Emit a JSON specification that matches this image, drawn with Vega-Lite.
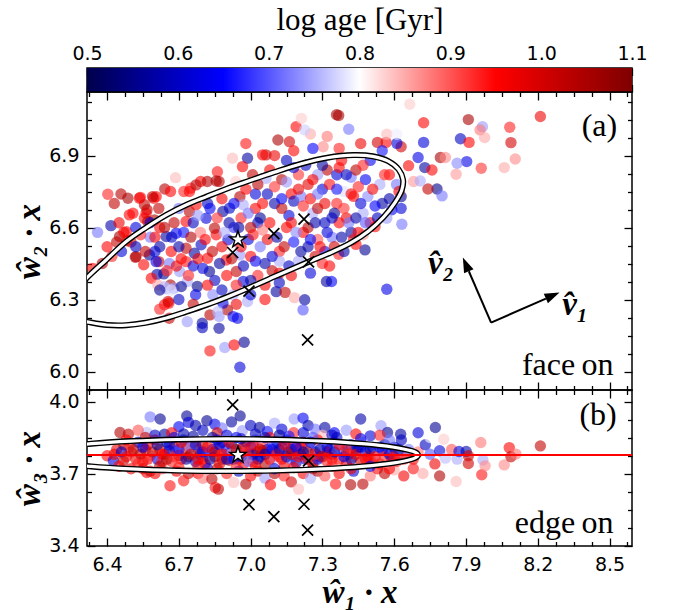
{
"$schema":"https://vega.github.io/schema/vega-lite/v6.json",
"background":"white",
"padding":{"left":13,"top":3,"right":10,"bottom":4},
"spacing":0,
"bounds":"flush",
"resolve":{"scale":{"x":"independent","y":"independent"}},
"config":{
 "view":{"stroke":"black","strokeWidth":1.5},
 "axis":{"domain":false,"grid":false,"tickColor":"black","tickWidth":1.3,"labelColor":"black","labelFont":"DejaVu Sans","labelFontSize":19,"labelFlush":false,"labelOverlap":false,"titleColor":"black","titleFont":"Liberation Serif","titleFontSize":33,"titleFontWeight":"bold","titleFontStyle":"italic","zindex":1}
},
"datasets":{
"face":[
{"x":7.665,"y":7.114,"c":0.83},{"x":7.368,"y":7.067,"c":1.05},{"x":7.723,"y":7.037,"c":0.95},{"x":7.91,"y":7.05,"c":1.05},{"x":7.969,"y":7.02,"c":0.74},{"x":7.959,"y":7.007,"c":0.88},{"x":7.978,"y":6.975,"c":0.85},{"x":8.083,"y":7.018,"c":0.93},{"x":8.088,"y":6.954,"c":1.0},{"x":8.106,"y":6.886,"c":0.87},
{"x":8.06,"y":6.85,"c":0.85},{"x":8.211,"y":7.063,"c":0.97},{"x":7.877,"y":6.97,"c":0.6},{"x":7.913,"y":6.955,"c":0.95},{"x":7.903,"y":6.875,"c":0.63},{"x":7.863,"y":6.868,"c":0.73},{"x":7.964,"y":6.847,"c":0.92},{"x":7.859,"y":6.822,"c":0.86},{"x":7.793,"y":6.892,"c":1.05},{"x":7.814,"y":6.892,"c":0.87},
{"x":7.723,"y":6.955,"c":0.62},{"x":7.70,"y":6.892,"c":0.63},{"x":7.728,"y":6.85,"c":0.57},{"x":7.758,"y":6.84,"c":0.95},{"x":7.779,"y":6.761,"c":0.55},{"x":7.80,"y":6.732,"c":0.72},{"x":7.741,"y":6.761,"c":1.02},{"x":7.681,"y":6.792,"c":0.86},{"x":7.709,"y":6.794,"c":0.75},{"x":7.629,"y":6.937,"c":1.0},
{"x":7.611,"y":6.951,"c":0.62},{"x":7.566,"y":6.955,"c":0.95},{"x":7.569,"y":6.989,"c":0.84},{"x":7.66,"y":6.858,"c":0.95},{"x":7.629,"y":6.729,"c":0.56},{"x":7.629,"y":6.68,"c":0.62},{"x":7.632,"y":6.614,"c":0.72},{"x":7.59,"y":6.674,"c":0.64},{"x":7.569,"y":6.639,"c":0.74},{"x":7.52,"y":6.604,"c":0.95},
{"x":7.478,"y":6.507,"c":0.56},{"x":7.44,"y":6.53,"c":0.95},{"x":7.471,"y":6.57,"c":0.86},{"x":7.569,"y":6.343,"c":0.63},{"x":7.368,"y":6.489,"c":0.93},{"x":7.338,"y":6.375,"c":0.65},{"x":7.611,"y":6.989,"c":0.79},{"x":7.52,"y":6.93,"c":0.8},{"x":7.46,"y":6.95,"c":0.97},{"x":7.53,"y":6.955,"c":1.0},
{"x":7.37,"y":6.93,"c":0.93},{"x":7.25,"y":6.99,"c":0.85},{"x":7.19,"y":7.02,"c":0.95},{"x":7.32,"y":6.84,"c":1.03},{"x":7.36,"y":6.82,"c":0.62},{"x":7.42,"y":6.81,"c":0.72},{"x":7.48,"y":6.80,"c":0.64},{"x":7.54,"y":6.78,"c":0.75},{"x":7.58,"y":6.82,"c":0.95},{"x":7.61,"y":6.78,"c":0.72},
{"x":7.62,"y":6.75,"c":0.97},{"x":7.55,"y":6.70,"c":0.57},{"x":7.52,"y":6.69,"c":0.65},{"x":7.47,"y":6.66,"c":0.75},{"x":7.43,"y":6.73,"c":0.95},{"x":7.36,"y":6.70,"c":0.93},{"x":7.30,"y":6.76,"c":0.62},{"x":7.24,"y":6.78,"c":0.98},{"x":7.17,"y":6.74,"c":0.95},{"x":7.13,"y":6.80,"c":1.03},
{"x":7.08,"y":6.84,"c":0.96},{"x":7.10,"y":6.70,"c":0.58},{"x":7.16,"y":6.65,"c":0.62},{"x":7.26,"y":6.66,"c":0.75},{"x":7.31,"y":6.62,"c":0.6},{"x":7.37,"y":6.62,"c":0.95},{"x":7.42,"y":6.58,"c":0.57},{"x":7.40,"y":6.64,"c":0.97},{"x":7.34,"y":6.56,"c":0.72},{"x":7.22,"y":6.58,"c":0.95},
{"x":7.18,"y":6.54,"c":0.66},{"x":7.12,"y":6.50,"c":0.93},{"x":7.07,"y":6.55,"c":0.97},{"x":7.03,"y":6.62,"c":0.6},{"x":7.02,"y":6.68,"c":0.95},{"x":7.20,"y":6.46,"c":0.75},{"x":7.30,"y":6.45,"c":0.93},{"x":7.43,"y":6.55,"c":0.94},{"x":6.403,"y":6.739,"c":0.93},{"x":6.458,"y":6.74,"c":1.03},
{"x":6.487,"y":6.722,"c":1.05},{"x":6.416,"y":6.608,"c":0.58},{"x":6.452,"y":6.563,"c":1.05},{"x":6.483,"y":6.545,"c":0.97},{"x":6.518,"y":6.476,"c":1.04},{"x":6.539,"y":6.726,"c":0.95},{"x":6.556,"y":6.639,"c":0.95},{"x":6.567,"y":6.674,"c":1.03},{"x":6.595,"y":6.722,"c":0.95},{"x":6.616,"y":6.68,"c":1.02},
{"x":6.641,"y":6.761,"c":1.03},{"x":6.609,"y":6.405,"c":0.58},{"x":6.553,"y":6.445,"c":0.95},{"x":6.616,"y":6.458,"c":1.02},{"x":6.637,"y":6.407,"c":0.56},{"x":6.665,"y":6.361,"c":1.05},{"x":6.648,"y":6.345,"c":0.75},{"x":6.679,"y":6.347,"c":0.74},{"x":6.658,"y":6.285,"c":0.95},{"x":6.735,"y":6.375,"c":0.75},
{"x":6.777,"y":6.355,"c":0.55},{"x":6.77,"y":6.32,"c":0.63},{"x":6.735,"y":6.208,"c":0.74},{"x":6.798,"y":6.201,"c":0.57},{"x":6.798,"y":6.183,"c":0.6},{"x":6.83,"y":6.236,"c":1.03},{"x":6.83,"y":6.086,"c":0.94},{"x":6.868,"y":6.18,"c":0.57},{"x":6.892,"y":6.10,"c":0.74},{"x":6.931,"y":6.111,"c":0.95},
{"x":6.973,"y":6.122,"c":0.56},{"x":6.955,"y":6.018,"c":0.62},{"x":6.868,"y":6.229,"c":0.74},{"x":6.903,"y":6.257,"c":1.04},{"x":6.945,"y":6.222,"c":0.63},{"x":6.987,"y":6.292,"c":0.75},{"x":7.107,"y":6.333,"c":0.57},{"x":7.144,"y":6.33,"c":1.02},{"x":7.183,"y":6.308,"c":0.85},{"x":7.226,"y":6.299,"c":0.57},
{"x":7.219,"y":6.257,"c":0.7},{"x":7.317,"y":6.375,"c":0.57},{"x":6.924,"y":6.889,"c":0.84},{"x":6.987,"y":6.889,"c":0.57},{"x":7.064,"y":6.903,"c":1.02},{"x":7.114,"y":6.965,"c":1.05},{"x":7.162,"y":6.958,"c":1.0},{"x":7.212,"y":7.055,"c":0.83},{"x":7.226,"y":7.007,"c":0.77},{"x":7.359,"y":7.07,"c":1.05},
{"x":7.303,"y":6.937,"c":0.87},{"x":6.686,"y":6.808,"c":0.84},{"x":6.665,"y":6.75,"c":0.95},{"x":6.721,"y":6.75,"c":0.93},{"x":6.749,"y":6.764,"c":0.93},{"x":6.791,"y":6.792,"c":0.95},{"x":6.819,"y":6.792,"c":1.04},{"x":6.861,"y":6.833,"c":0.94},{"x":6.868,"y":6.792,"c":1.03},{"x":6.938,"y":6.792,"c":0.83},
{"x":6.966,"y":6.854,"c":0.95},{"x":7.008,"y":6.82,"c":1.02},{"x":7.064,"y":6.805,"c":0.75},{"x":6.48,"y":6.583,"c":0.95},{"x":6.50,"y":6.54,"c":1.02},{"x":6.493,"y":6.653,"c":0.95},{"x":6.563,"y":6.66,"c":0.96},{"x":6.57,"y":6.625,"c":1.03},{"x":6.556,"y":6.695,"c":1.02},{"x":6.605,"y":6.729,"c":0.95},
{"x":6.521,"y":6.479,"c":1.03},{"x":6.577,"y":6.486,"c":0.56},{"x":6.605,"y":6.458,"c":0.63},{"x":6.647,"y":6.563,"c":0.57},{"x":6.668,"y":6.50,"c":0.95},{"x":6.689,"y":6.576,"c":0.64},{"x":6.585,"y":6.389,"c":0.95},{"x":6.612,"y":6.361,"c":0.85},{"x":6.64,"y":6.354,"c":0.76},{"x":6.64,"y":6.278,"c":0.95},
{"x":6.73,"y":6.625,"c":0.95},{"x":6.744,"y":6.667,"c":1.03},{"x":6.772,"y":6.695,"c":0.95},{"x":6.814,"y":6.639,"c":0.62},{"x":6.793,"y":6.528,"c":0.6},{"x":6.765,"y":6.493,"c":0.57},{"x":6.73,"y":6.514,"c":1.02},{"x":6.73,"y":6.458,"c":0.94},{"x":6.703,"y":6.417,"c":0.74},{"x":6.828,"y":6.417,"c":0.56},
{"x":6.82,"y":6.472,"c":0.95},{"x":6.856,"y":6.57,"c":0.95},{"x":6.849,"y":6.597,"c":1.03},{"x":6.884,"y":6.667,"c":0.57},{"x":6.905,"y":6.549,"c":0.62},{"x":6.912,"y":6.681,"c":0.6},{"x":6.898,"y":6.465,"c":0.95},{"x":6.94,"y":6.417,"c":1.02},{"x":6.955,"y":6.486,"c":0.74},{"x":6.969,"y":6.375,"c":0.62},
{"x":6.927,"y":6.32,"c":0.75},{"x":6.884,"y":6.285,"c":0.63},{"x":6.842,"y":6.32,"c":0.73},{"x":6.863,"y":6.25,"c":0.76},{"x":6.927,"y":6.229,"c":0.64},{"x":6.955,"y":6.729,"c":1.03},{"x":6.969,"y":6.695,"c":0.75},{"x":6.71,"y":6.354,"c":0.56},{"x":6.668,"y":6.34,"c":0.78},{"x":6.66,"y":6.222,"c":1.02},
{"x":6.655,"y":6.292,"c":1.0},{"x":6.62,"y":6.34,"c":0.56},{"x":7.02,"y":6.74,"c":0.62},{"x":7.05,"y":6.70,"c":0.95},{"x":7.00,"y":6.60,"c":1.03},{"x":7.04,"y":6.52,"c":0.72},{"x":7.00,"y":6.48,"c":0.95},{"x":7.06,"y":6.45,"c":0.58},{"x":7.03,"y":6.40,"c":0.93},{"x":7.09,"y":6.42,"c":1.02},
{"x":7.12,"y":6.46,"c":0.75},{"x":7.15,"y":6.60,"c":0.95},{"x":7.13,"y":6.68,"c":1.02},{"x":7.18,"y":6.71,"c":0.6},{"x":7.21,"y":6.73,"c":0.72},{"x":7.25,"y":6.72,"c":0.95},{"x":7.28,"y":6.68,"c":1.03},{"x":7.24,"y":6.52,"c":0.58},{"x":7.28,"y":6.55,"c":0.9},{"x":7.31,"y":6.50,"c":0.63},
{"x":7.27,"y":6.48,"c":1.0},{"x":7.35,"y":6.66,"c":0.56},{"x":7.39,"y":6.75,"c":0.78},{"x":7.45,"y":6.77,"c":0.93},{"x":7.44,"y":6.84,"c":1.03},{"x":7.50,"y":6.88,"c":0.64},{"x":7.38,"y":6.88,"c":0.95},{"x":7.28,"y":6.82,"c":0.74},{"x":7.20,"y":6.82,"c":0.92},{"x":7.15,"y":6.88,"c":0.6},
{"x":7.10,"y":6.90,"c":0.97},{"x":7.02,"y":6.93,"c":0.8},{"x":6.98,"y":6.95,"c":0.94},{"x":7.18,"y":6.92,"c":0.95},{"x":7.26,"y":6.93,"c":0.65},{"x":7.32,"y":6.98,"c":0.88},{"x":7.41,"y":7.01,"c":0.72},{"x":7.55,"y":6.92,"c":0.66},{"x":7.49,"y":6.73,"c":0.73},{"x":7.50,"y":6.62,"c":0.96},
{"x":6.535,"y":6.722,"c":0.96},{"x":6.59,"y":6.729,"c":1.03},{"x":6.508,"y":6.66,"c":0.95},{"x":6.598,"y":6.632,"c":1.04},{"x":6.744,"y":6.75,"c":0.95},{"x":6.772,"y":6.778,"c":1.03},{"x":6.856,"y":6.794,"c":1.04},{"x":7.05,"y":6.903,"c":0.95},{"x":6.93,"y":6.60,"c":0.68},{"x":6.88,"y":6.52,"c":0.97},
{"x":6.79,"y":6.58,"c":0.88},{"x":6.76,"y":6.44,"c":0.62},{"x":6.58,"y":6.56,"c":0.72},{"x":6.52,"y":6.60,"c":0.62},{"x":6.45,"y":6.62,"c":0.97},{"x":6.43,"y":6.70,"c":1.02},{"x":6.99,"y":6.55,"c":0.62},{"x":6.96,"y":6.64,"c":0.93},{"x":6.82,"y":6.70,"c":0.6},{"x":6.70,"y":6.68,"c":0.72},
{"x":6.60,"y":6.50,"c":0.62},{"x":6.62,"y":6.60,"c":0.97},{"x":6.66,"y":6.45,"c":0.72},{"x":6.68,"y":6.62,"c":1.02},{"x":6.70,"y":6.52,"c":0.58},{"x":6.71,"y":6.47,"c":0.95},{"x":6.72,"y":6.58,"c":0.66},{"x":6.74,"y":6.40,"c":0.93},{"x":6.75,"y":6.56,"c":1.04},{"x":6.76,"y":6.62,"c":0.6},
{"x":6.78,"y":6.47,"c":0.97},{"x":6.78,"y":6.65,"c":0.74},{"x":6.80,"y":6.43,"c":0.62},{"x":6.81,"y":6.55,"c":0.95},{"x":6.83,"y":6.68,"c":0.64},{"x":6.84,"y":6.50,"c":1.02},{"x":6.85,"y":6.38,"c":0.6},{"x":6.86,"y":6.64,"c":0.92},{"x":6.87,"y":6.45,"c":0.57},{"x":6.88,"y":6.72,"c":0.96},
{"x":6.89,"y":6.58,"c":0.75},{"x":6.90,"y":6.40,"c":0.95},{"x":6.91,"y":6.62,"c":0.58},{"x":6.92,"y":6.47,"c":1.03},{"x":6.93,"y":6.70,"c":0.64},{"x":6.94,"y":6.36,"c":0.93},{"x":6.95,"y":6.60,"c":0.57},{"x":6.96,"y":6.52,"c":0.96},{"x":6.97,"y":6.44,"c":0.6},{"x":6.98,"y":6.76,"c":0.95},
{"x":6.99,"y":6.66,"c":0.72},{"x":7.00,"y":6.38,"c":0.58},{"x":7.01,"y":6.57,"c":0.94},{"x":7.02,"y":6.46,"c":0.64},{"x":7.03,"y":6.78,"c":1.03},{"x":7.04,"y":6.64,"c":0.56},{"x":7.05,"y":6.59,"c":0.88},{"x":7.06,"y":6.36,"c":0.96},{"x":7.07,"y":6.74,"c":0.6},{"x":7.08,"y":6.62,"c":0.95},
{"x":7.09,"y":6.48,"c":0.62},{"x":7.10,"y":6.77,"c":0.92},{"x":7.11,"y":6.56,"c":0.58},{"x":7.12,"y":6.41,"c":0.97},{"x":7.13,"y":6.72,"c":0.64},{"x":7.14,"y":6.52,"c":1.02},{"x":7.15,"y":6.79,"c":0.74},{"x":7.16,"y":6.44,"c":0.6},{"x":7.17,"y":6.62,"c":0.96},{"x":7.18,"y":6.85,"c":0.62},
{"x":7.19,"y":6.58,"c":0.73},{"x":7.20,"y":6.76,"c":0.97},{"x":7.21,"y":6.50,"c":0.57},{"x":7.22,"y":6.69,"c":0.93},{"x":7.23,"y":6.86,"c":0.6},{"x":7.24,"y":6.60,"c":1.03},{"x":7.25,"y":6.55,"c":0.64},{"x":7.26,"y":6.80,"c":0.96},{"x":7.27,"y":6.62,"c":0.58},{"x":7.28,"y":6.74,"c":0.72},
{"x":7.29,"y":6.52,"c":0.95},{"x":7.30,"y":6.86,"c":0.57},{"x":7.31,"y":6.70,"c":0.97},{"x":7.32,"y":6.58,"c":0.62},{"x":7.33,"y":6.78,"c":0.94},{"x":7.34,"y":6.64,"c":0.6},{"x":7.35,"y":6.52,"c":1.0},{"x":7.36,"y":6.76,"c":0.66},{"x":7.37,"y":6.85,"c":0.95},{"x":7.38,"y":6.56,"c":0.58},
{"x":7.39,"y":6.68,"c":0.92},{"x":7.40,"y":6.82,"c":0.6},{"x":7.41,"y":6.62,"c":0.72},{"x":7.42,"y":6.74,"c":0.96},{"x":7.44,"y":6.64,"c":0.58},{"x":7.45,"y":6.58,"c":0.95},{"x":7.46,"y":6.70,"c":0.62},{"x":7.47,"y":6.86,"c":0.93},{"x":7.48,"y":6.62,"c":0.7},{"x":7.51,"y":6.76,"c":0.96},
{"x":7.53,"y":6.64,"c":0.6},{"x":7.56,"y":6.82,"c":0.93},{"x":7.58,"y":6.72,"c":0.58},{"x":6.52,"y":6.52,"c":0.6},{"x":6.54,"y":6.57,"c":0.93},{"x":6.56,"y":6.50,"c":1.02},{"x":6.58,"y":6.62,"c":0.62},{"x":6.60,"y":6.56,"c":0.96},{"x":6.62,"y":6.52,"c":0.58},{"x":6.64,"y":6.60,"c":1.03},
{"x":6.65,"y":6.42,"c":0.93},{"x":6.67,"y":6.56,"c":0.6},{"x":6.69,"y":6.44,"c":0.97},{"x":6.46,"y":6.50,"c":0.62},{"x":6.47,"y":6.58,"c":0.96},{"x":6.44,"y":6.54,"c":1.02},{"x":6.42,"y":6.48,"c":0.93},{"x":6.38,"y":6.45,"c":1.03},{"x":6.40,"y":6.52,"c":0.95},{"x":6.36,"y":6.58,"c":0.72},
{"x":6.34,"y":6.43,"c":0.95},{"x":6.62,"y":6.26,"c":0.93},{"x":6.70,"y":6.30,"c":0.6},{"x":6.76,"y":6.28,"c":1.02},{"x":6.82,"y":6.36,"c":0.95},{"x":6.88,"y":6.34,"c":0.6},{"x":6.94,"y":6.28,"c":0.97},{"x":7.00,"y":6.32,"c":0.62},{"x":7.06,"y":6.30,"c":0.95},{"x":7.12,"y":6.37,"c":0.6},
{"x":7.17,"y":6.40,"c":0.96},{"x":7.25,"y":6.41,"c":0.62},{"x":7.33,"y":6.44,"c":0.95},{"x":7.39,"y":6.50,"c":0.58}
],
"edge":[
{"x":6.58,"z":3.936,"c":0.72},{"x":6.622,"z":3.927,"c":0.56},{"x":6.733,"z":3.94,"c":0.56},{"x":6.74,"z":3.913,"c":0.62},{"x":6.817,"z":3.92,"c":0.56},{"x":6.80,"z":3.88,"c":0.6},{"x":6.64,"z":3.864,"c":0.57},{"x":6.566,"z":3.871,"c":0.76},{"x":6.70,"z":3.895,"c":0.64},{"x":6.77,"z":3.90,"c":0.58},
{"x":6.85,"z":3.905,"c":0.63},{"x":6.88,"z":3.89,"c":0.72},{"x":6.92,"z":3.915,"c":0.57},{"x":6.956,"z":3.94,"c":0.56},{"x":6.965,"z":3.878,"c":0.74},{"x":7.00,"z":3.90,"c":0.6},{"x":7.037,"z":3.892,"c":0.57},{"x":7.07,"z":3.875,"c":0.66},{"x":7.10,"z":3.91,"c":0.75},{"x":7.13,"z":3.885,"c":0.62},
{"x":7.182,"z":3.927,"c":0.74},{"x":7.219,"z":3.931,"c":0.64},{"x":7.24,"z":3.90,"c":0.58},{"x":7.27,"z":3.885,"c":0.72},{"x":7.31,"z":3.892,"c":0.57},{"x":7.35,"z":3.87,"c":0.65},{"x":7.40,"z":3.88,"c":0.74},{"x":7.46,"z":3.927,"c":0.58},{"x":7.50,"z":3.857,"c":0.62},{"x":7.545,"z":3.899,"c":0.74},
{"x":7.572,"z":3.871,"c":0.56},{"x":7.627,"z":3.864,"c":0.57},{"x":7.772,"z":3.892,"c":0.56},{"x":6.454,"z":3.871,"c":1.04},{"x":6.489,"z":3.864,"c":1.02},{"x":6.53,"z":3.88,"c":0.9},{"x":6.67,"z":3.87,"c":0.95},{"x":6.86,"z":3.87,"c":1.0},{"x":7.18,"z":3.87,"c":0.93},{"x":7.30,"z":3.86,"c":0.84},
{"x":7.44,"z":3.865,"c":0.95},{"x":6.40,"z":3.774,"c":0.95},{"x":6.426,"z":3.753,"c":0.62},{"x":6.44,"z":3.80,"c":0.97},{"x":6.468,"z":3.753,"c":1.02},{"x":6.47,"z":3.82,"c":1.04},{"x":6.50,"z":3.79,"c":0.93},{"x":6.52,"z":3.76,"c":0.97},{"x":6.53,"z":3.83,"c":0.6},{"x":6.55,"z":3.75,"c":0.95},
{"x":6.56,"z":3.80,"c":1.03},{"x":6.58,"z":3.775,"c":0.88},{"x":6.60,"z":3.84,"c":0.95},{"x":6.61,"z":3.76,"c":0.64},{"x":6.62,"z":3.80,"c":1.02},{"x":6.64,"z":3.78,"c":0.96},{"x":6.65,"z":3.83,"c":0.58},{"x":6.67,"z":3.75,"c":0.93},{"x":6.68,"z":3.81,"c":1.04},{"x":6.69,"z":3.79,"c":0.73},
{"x":6.71,"z":3.76,"c":0.95},{"x":6.72,"z":3.84,"c":0.62},{"x":6.73,"z":3.80,"c":0.98},{"x":6.74,"z":3.77,"c":1.05},{"x":6.76,"z":3.83,"c":0.96},{"x":6.77,"z":3.75,"c":0.6},{"x":6.78,"z":3.80,"c":0.92},{"x":6.79,"z":3.78,"c":0.55},{"x":6.80,"z":3.82,"c":1.0},{"x":6.81,"z":3.74,"c":0.95},
{"x":6.82,"z":3.72,"c":0.62},{"x":6.83,"z":3.79,"c":0.74},{"x":6.84,"z":3.85,"c":0.57},{"x":6.85,"z":3.77,"c":1.03},{"x":6.86,"z":3.81,"c":0.9},{"x":6.87,"z":3.74,"c":0.97},{"x":6.88,"z":3.83,"c":0.6},{"x":6.89,"z":3.78,"c":0.95},{"x":6.90,"z":3.80,"c":0.66},{"x":6.91,"z":3.755,"c":1.02},
{"x":6.92,"z":3.82,"c":0.58},{"x":6.93,"z":3.79,"c":0.93},{"x":6.94,"z":3.85,"c":0.63},{"x":6.95,"z":3.76,"c":0.97},{"x":6.96,"z":3.80,"c":0.72},{"x":6.97,"z":3.74,"c":0.95},{"x":6.98,"z":3.83,"c":0.56},{"x":6.99,"z":3.78,"c":1.03},{"x":7.00,"z":3.81,"c":0.64},{"x":7.01,"z":3.75,"c":0.96},
{"x":7.02,"z":3.84,"c":0.7},{"x":7.03,"z":3.79,"c":0.95},{"x":7.04,"z":3.77,"c":0.6},{"x":7.05,"z":3.82,"c":0.92},{"x":7.06,"z":3.74,"c":1.04},{"x":7.07,"z":3.80,"c":0.62},{"x":7.08,"z":3.85,"c":0.95},{"x":7.09,"z":3.76,"c":0.75},{"x":7.10,"z":3.79,"c":1.0},{"x":7.11,"z":3.83,"c":0.57},
{"x":7.12,"z":3.77,"c":0.94},{"x":7.13,"z":3.81,"c":0.66},{"x":7.14,"z":3.73,"c":0.96},{"x":7.15,"z":3.84,"c":0.62},{"x":7.16,"z":3.79,"c":1.02},{"x":7.17,"z":3.76,"c":0.72},{"x":7.18,"z":3.82,"c":0.95},{"x":7.19,"z":3.745,"c":0.6},{"x":7.20,"z":3.80,"c":0.88},{"x":7.21,"z":3.78,"c":0.56},
{"x":7.22,"z":3.83,"c":0.97},{"x":7.23,"z":3.76,"c":0.63},{"x":7.25,"z":3.81,"c":0.74},{"x":7.26,"z":3.74,"c":1.0},{"x":7.27,"z":3.79,"c":0.6},{"x":7.28,"z":3.84,"c":0.95},{"x":7.29,"z":3.77,"c":0.64},{"x":7.30,"z":3.82,"c":0.76},{"x":7.32,"z":3.75,"c":0.93},{"x":7.33,"z":3.80,"c":0.58},
{"x":7.34,"z":3.78,"c":1.02},{"x":7.35,"z":3.83,"c":0.62},{"x":7.37,"z":3.76,"c":0.95},{"x":7.38,"z":3.81,"c":0.7},{"x":7.39,"z":3.79,"c":0.57},{"x":7.40,"z":3.74,"c":0.96},{"x":7.42,"z":3.82,"c":0.63},{"x":7.43,"z":3.77,"c":0.88},{"x":7.44,"z":3.80,"c":0.6},{"x":7.46,"z":3.75,"c":1.0},
{"x":7.47,"z":3.83,"c":0.74},{"x":7.48,"z":3.79,"c":0.62},{"x":7.50,"z":3.76,"c":0.95},{"x":7.51,"z":3.81,"c":0.66},{"x":7.53,"z":3.78,"c":0.78},{"x":7.54,"z":3.74,"c":0.93},{"x":7.56,"z":3.82,"c":0.58},{"x":7.57,"z":3.79,"c":0.72},{"x":7.59,"z":3.76,"c":0.96},{"x":7.60,"z":3.81,"c":0.62},
{"x":7.62,"z":3.78,"c":0.75},{"x":7.63,"z":3.84,"c":0.6},{"x":7.65,"z":3.77,"c":0.9},{"x":7.66,"z":3.80,"c":0.72},{"x":7.68,"z":3.76,"c":0.96},{"x":7.70,"z":3.79,"c":0.88},{"x":6.566,"z":3.704,"c":0.95},{"x":6.58,"z":3.71,"c":1.04},{"x":6.60,"z":3.70,"c":0.96},{"x":6.63,"z":3.72,"c":0.9},
{"x":6.663,"z":3.649,"c":0.94},{"x":6.69,"z":3.71,"c":0.97},{"x":6.74,"z":3.70,"c":1.02},{"x":6.78,"z":3.70,"c":0.95},{"x":6.80,"z":3.68,"c":0.88},{"x":6.838,"z":3.677,"c":1.03},{"x":6.852,"z":3.642,"c":0.94},{"x":6.865,"z":3.635,"c":1.02},{"x":6.90,"z":3.70,"c":0.93},{"x":6.929,"z":3.663,"c":0.84},
{"x":6.95,"z":3.71,"c":0.6},{"x":6.98,"z":3.656,"c":1.04},{"x":7.00,"z":3.69,"c":0.95},{"x":7.03,"z":3.71,"c":1.02},{"x":7.06,"z":3.68,"c":0.74},{"x":7.083,"z":3.653,"c":0.95},{"x":7.10,"z":3.70,"c":1.03},{"x":7.14,"z":3.69,"c":0.93},{"x":7.17,"z":3.665,"c":1.0},{"x":7.20,"z":3.635,"c":0.84},
{"x":7.22,"z":3.70,"c":0.95},{"x":7.25,"z":3.68,"c":0.75},{"x":7.28,"z":3.71,"c":1.04},{"x":7.31,"z":3.69,"c":0.9},{"x":7.355,"z":3.656,"c":0.94},{"x":7.37,"z":3.70,"c":0.96},{"x":7.418,"z":3.653,"c":1.04},{"x":7.43,"z":3.71,"c":0.62},{"x":7.469,"z":3.656,"c":1.03},{"x":7.50,"z":3.69,"c":0.88},
{"x":7.53,"z":3.72,"c":0.95},{"x":7.56,"z":3.70,"c":1.02},{"x":7.60,"z":3.715,"c":0.85},{"x":7.64,"z":3.69,"c":0.96},{"x":7.68,"z":3.72,"c":0.94},{"x":6.72,"z":3.67,"c":0.94},{"x":6.50,"z":3.72,"c":0.97},{"x":6.45,"z":3.73,"c":0.95},{"x":7.73,"z":3.82,"c":0.6},{"x":7.75,"z":3.78,"c":0.7},
{"x":7.77,"z":3.74,"c":0.97},{"x":7.79,"z":3.795,"c":0.62},{"x":7.79,"z":3.69,"c":1.04},{"x":7.807,"z":3.843,"c":0.83},{"x":7.814,"z":3.764,"c":0.76},{"x":7.84,"z":3.80,"c":0.9},{"x":7.859,"z":3.667,"c":0.84},{"x":7.863,"z":3.76,"c":0.75},{"x":7.871,"z":3.792,"c":0.62},{"x":7.901,"z":3.792,"c":0.58},
{"x":7.91,"z":3.774,"c":1.02},{"x":7.91,"z":3.742,"c":1.0},{"x":7.962,"z":3.829,"c":0.88},{"x":7.966,"z":3.695,"c":0.94},{"x":7.971,"z":3.756,"c":0.75},{"x":7.98,"z":3.732,"c":0.87},{"x":8.06,"z":3.736,"c":0.87},{"x":8.081,"z":3.808,"c":0.95},{"x":8.088,"z":3.77,"c":1.02},{"x":8.109,"z":3.781,"c":0.88},
{"x":8.211,"z":3.815,"c":1.02},{"x":7.72,"z":3.70,"c":0.85},{"x":7.75,"z":3.85,"c":0.8},{"x":7.70,"z":3.87,"c":0.62},{"x":6.43,"z":3.78,"c":0.97},{"x":6.49,"z":3.81,"c":0.92},{"x":6.54,"z":3.78,"c":1.02},{"x":6.57,"z":3.82,"c":0.95},{"x":6.63,"z":3.75,"c":0.93},{"x":6.66,"z":3.795,"c":0.6},
{"x":6.70,"z":3.775,"c":1.0},{"x":6.75,"z":3.81,"c":0.72},{"x":6.80,"z":3.76,"c":0.95},{"x":6.84,"z":3.80,"c":0.62},{"x":6.88,"z":3.76,"c":1.02},{"x":6.92,"z":3.78,"c":0.75},{"x":6.97,"z":3.81,"c":0.96},{"x":7.01,"z":3.78,"c":0.57},{"x":7.05,"z":3.795,"c":1.0},{"x":7.09,"z":3.815,"c":0.68},
{"x":7.13,"z":3.76,"c":0.95},{"x":7.17,"z":3.80,"c":0.58},{"x":7.21,"z":3.815,"c":0.95},{"x":7.24,"z":3.79,"c":1.03},{"x":7.28,"z":3.76,"c":0.62},{"x":7.32,"z":3.79,"c":0.96},{"x":7.36,"z":3.80,"c":0.76},{"x":7.41,"z":3.78,"c":0.95},{"x":7.45,"z":3.81,"c":0.57},{"x":7.49,"z":3.77,"c":0.94},
{"x":7.55,"z":3.80,"c":0.64},{"x":7.58,"z":3.84,"c":0.72},{"x":7.61,"z":3.75,"c":0.93},{"x":6.96,"z":3.845,"c":0.6},{"x":7.06,"z":3.85,"c":0.58},{"x":7.16,"z":3.855,"c":0.66},{"x":7.26,"z":3.85,"c":0.7},{"x":6.76,"z":3.855,"c":0.57},{"x":6.68,"z":3.85,"c":0.63},{"x":6.86,"z":3.84,"c":0.6},
{"x":7.36,"z":3.85,"c":0.6},{"x":7.46,"z":3.845,"c":0.63},
{"x":6.46,"z":3.79,"c":0.6},{"x":6.48,"z":3.77,"c":0.97},{"x":6.51,"z":3.80,"c":1.03},{"x":6.53,"z":3.74,"c":0.93},{"x":6.55,"z":3.81,"c":0.62},{"x":6.57,"z":3.76,"c":0.96},{"x":6.59,"z":3.79,"c":1.02},{"x":6.61,"z":3.82,"c":0.57},{"x":6.63,"z":3.78,"c":0.95},{"x":6.65,"z":3.76,"c":1.04},
{"x":6.66,"z":3.82,"c":0.62},{"x":6.68,"z":3.77,"c":0.93},{"x":6.70,"z":3.80,"c":0.66},{"x":6.71,"z":3.83,"c":0.97},{"x":6.73,"z":3.76,"c":0.58},{"x":6.75,"z":3.78,"c":1.02},{"x":6.77,"z":3.82,"c":0.6},{"x":6.78,"z":3.76,"c":0.96},{"x":6.80,"z":3.79,"c":0.64},{"x":6.82,"z":3.81,"c":0.95},
{"x":6.83,"z":3.76,"c":0.57},{"x":6.85,"z":3.79,"c":1.02},{"x":6.87,"z":3.82,"c":0.62},{"x":6.88,"z":3.78,"c":0.94},{"x":6.90,"z":3.76,"c":0.6},{"x":6.91,"z":3.83,"c":0.97},{"x":6.93,"z":3.76,"c":0.64},{"x":6.94,"z":3.80,"c":1.03},{"x":6.96,"z":3.77,"c":0.58},{"x":6.98,"z":3.79,"c":0.93},
{"x":6.99,"z":3.75,"c":0.72},{"x":7.01,"z":3.82,"c":0.95},{"x":7.03,"z":3.76,"c":0.6},{"x":7.04,"z":3.80,"c":1.02},{"x":7.06,"z":3.78,"c":0.57},{"x":7.08,"z":3.76,"c":0.96},{"x":7.09,"z":3.80,"c":0.63},{"x":7.11,"z":3.78,"c":0.93},{"x":7.12,"z":3.80,"c":0.58},{"x":7.14,"z":3.82,"c":0.96},
{"x":7.15,"z":3.77,"c":0.6},{"x":7.17,"z":3.78,"c":1.02},{"x":7.19,"z":3.81,"c":0.64},{"x":7.20,"z":3.77,"c":0.95},{"x":7.22,"z":3.79,"c":0.57},{"x":7.24,"z":3.76,"c":0.97},{"x":7.25,"z":3.83,"c":0.62},{"x":7.27,"z":3.78,"c":0.93},{"x":7.29,"z":3.80,"c":0.58},{"x":7.30,"z":3.77,"c":1.0},
{"x":7.32,"z":3.81,"c":0.62},{"x":7.34,"z":3.76,"c":0.95},{"x":7.35,"z":3.79,"c":0.6},{"x":7.37,"z":3.82,"c":0.96},{"x":7.39,"z":3.77,"c":0.64},{"x":7.40,"z":3.80,"c":0.93},{"x":7.42,"z":3.76,"c":0.58},{"x":7.44,"z":3.78,"c":0.97},{"x":7.46,"z":3.81,"c":0.62},{"x":7.48,"z":3.76,"c":0.95},
{"x":7.50,"z":3.80,"c":0.57},{"x":7.52,"z":3.77,"c":0.96},{"x":7.54,"z":3.81,"c":0.62},{"x":7.56,"z":3.77,"c":0.93},{"x":7.58,"z":3.78,"c":0.6},{"x":7.60,"z":3.77,"c":0.95},{"x":7.62,"z":3.80,"c":0.58},{"x":7.64,"z":3.76,"c":0.93},{"x":6.55,"z":3.72,"c":0.97},{"x":6.62,"z":3.73,"c":1.03},
{"x":6.70,"z":3.725,"c":0.94},{"x":6.78,"z":3.73,"c":0.96},{"x":6.86,"z":3.72,"c":1.02},{"x":6.94,"z":3.725,"c":0.93},{"x":7.02,"z":3.73,"c":0.96},{"x":7.10,"z":3.72,"c":0.62},{"x":7.18,"z":3.725,"c":0.95},{"x":7.26,"z":3.72,"c":1.03},{"x":7.34,"z":3.73,"c":0.93},{"x":7.42,"z":3.72,"c":0.96},
{"x":7.50,"z":3.73,"c":0.64},{"x":7.58,"z":3.72,"c":0.95},{"x":6.60,"z":3.86,"c":0.6},{"x":6.72,"z":3.865,"c":0.58},{"x":6.90,"z":3.86,"c":0.62},{"x":7.02,"z":3.865,"c":0.6},{"x":7.12,"z":3.86,"c":0.57},{"x":7.22,"z":3.87,"c":0.62},{"x":7.34,"z":3.86,"c":0.6},{"x":7.54,"z":3.86,"c":0.93},
{"x":6.48,"z":3.84,"c":0.95},{"x":6.56,"z":3.85,"c":1.02}
],
"ellA":[
{"o":1,"x":6.29,"y":6.36},{"o":2,"x":6.317,"y":6.392},{"o":3,"x":6.396,"y":6.465},{"o":4,"x":6.48,"y":6.542},{"o":5,"x":6.56,"y":6.598},{"o":6,"x":6.648,"y":6.653},{"o":7,"x":6.73,"y":6.694},{"o":8,"x":6.816,"y":6.729},{"o":9,"x":6.90,"y":6.762},{"o":10,"x":6.985,"y":6.792},
{"o":11,"x":7.10,"y":6.831},{"o":12,"x":7.212,"y":6.866},{"o":13,"x":7.32,"y":6.891},{"o":14,"x":7.43,"y":6.902},{"o":15,"x":7.51,"y":6.897},{"o":16,"x":7.575,"y":6.877},{"o":17,"x":7.618,"y":6.843},{"o":18,"x":7.637,"y":6.80},{"o":19,"x":7.632,"y":6.757},{"o":20,"x":7.604,"y":6.705},
{"o":21,"x":7.555,"y":6.643},{"o":22,"x":7.492,"y":6.585},{"o":23,"x":7.42,"y":6.537},{"o":24,"x":7.34,"y":6.498},{"o":25,"x":7.242,"y":6.457},{"o":26,"x":7.11,"y":6.40},{"o":27,"x":6.985,"y":6.345},{"o":28,"x":6.90,"y":6.31},{"o":29,"x":6.816,"y":6.278},{"o":30,"x":6.73,"y":6.249},
{"o":31,"x":6.648,"y":6.223},{"o":32,"x":6.56,"y":6.203},{"o":33,"x":6.48,"y":6.193},{"o":34,"x":6.40,"y":6.194},{"o":35,"x":6.317,"y":6.207},{"o":36,"x":6.29,"y":6.212}
],
"ellB":[
{"o":1,"x":6.100,"z":3.777},{"o":2,"x":6.127,"z":3.794},{"o":3,"x":6.207,"z":3.8105},{"o":4,"x":6.334,"z":3.8244},{"o":5,"x":6.500,"z":3.835},{"o":6,"x":6.693,"z":3.8417},{"o":7,"x":6.900,"z":3.844},{"o":8,"x":7.107,"z":3.8417},{"o":9,"x":7.300,"z":3.835},{"o":10,"x":7.466,"z":3.8244},
{"o":11,"x":7.593,"z":3.8105},{"o":12,"x":7.673,"z":3.7943},{"o":13,"x":7.688,"z":3.7886},{"o":14,"x":7.697,"z":3.7828},{"o":15,"x":7.700,"z":3.777},{"o":16,"x":7.697,"z":3.7712},{"o":17,"x":7.688,"z":3.7654},{"o":18,"x":7.673,"z":3.7597},{"o":19,"x":7.593,"z":3.7435},{"o":20,"x":7.466,"z":3.7296},
{"o":21,"x":7.300,"z":3.719},{"o":22,"x":7.107,"z":3.7123},{"o":23,"x":6.900,"z":3.710},{"o":24,"x":6.693,"z":3.7123},{"o":25,"x":6.500,"z":3.719},{"o":26,"x":6.334,"z":3.7296},{"o":27,"x":6.207,"z":3.7435},{"o":28,"x":6.127,"z":3.760},{"o":29,"x":6.100,"z":3.777}
],
"cross":[
{"w1":6.925,"w2":6.496,"w3":3.986},{"w1":6.993,"w2":6.335,"w3":3.570},{"w1":7.097,"w2":6.575,"w3":3.520},{"w1":7.223,"w2":6.635,"w3":3.572},{"w1":7.238,"w2":6.132,"w3":3.464},{"w1":7.242,"w2":6.457,"w3":3.753}
],
"star":[{"w1":6.947,"w2":6.55,"w3":3.777}],
"cbar":[{"lo":0.5,"hi":1.1,"b0":0,"b1":1}],
"redline":[{"x0":6.316,"x1":8.594,"z":3.777}]
},
"vconcat":[
{
 "width":545,"height":24,
 "data":{"name":"cbar"},
 "layer":[
  {"mark":{"type":"rect","color":{"gradient":"linear","x1":0,"y1":0,"x2":1,"y2":0,"stops":[{"offset":0,"color":"#00004c"},{"offset":0.25,"color":"#0000ff"},{"offset":0.5,"color":"#ffffff"},{"offset":0.75,"color":"#ff0000"},{"offset":1,"color":"#7f0000"}]}},
   "encoding":{"x":{"field":"lo","type":"quantitative","scale":{"domain":[0.5,1.1],"nice":false,"zero":false},"axis":{"orient":"top","values":[0.5,0.6,0.7,0.8,0.9,1.0,1.1],"format":".1f","tickSize":-7.5,"labelPadding":12,"title":"log age [Gyr]","titleFontStyle":"normal","titleFontWeight":"normal","titleFontSize":31,"titlePadding":8}},"x2":{"field":"hi"},
    "y":{"field":"b0","type":"quantitative","scale":{"domain":[0,1],"nice":false,"zero":false},"axis":null},"y2":{"field":"b1"}}},
  {"mark":{"type":"rect","opacity":0},
   "encoding":{"x":{"field":"lo","type":"quantitative","axis":{"orient":"bottom","values":[0.5,0.6,0.7,0.8,0.9,1.0,1.1],"labels":false,"tickSize":-7.5,"title":null}},"x2":{"field":"hi"},"y":{"field":"b0","type":"quantitative","axis":null},"y2":{"field":"b1"}}},
  {"mark":{"type":"rect","opacity":0},
   "encoding":{"x":{"field":"lo","type":"quantitative","axis":{"orient":"top","values":[0.52,0.54,0.56,0.58,0.62,0.64,0.66,0.68,0.72,0.74,0.76,0.78,0.82,0.84,0.86,0.88,0.92,0.94,0.96,0.98,1.02,1.04,1.06,1.08],"labels":false,"tickSize":-4,"title":null}},"x2":{"field":"hi"},"y":{"field":"b0","type":"quantitative","axis":null},"y2":{"field":"b1"}}},
  {"mark":{"type":"rect","opacity":0},
   "encoding":{"x":{"field":"lo","type":"quantitative","axis":{"orient":"bottom","values":[0.52,0.54,0.56,0.58,0.62,0.64,0.66,0.68,0.72,0.74,0.76,0.78,0.82,0.84,0.86,0.88,0.92,0.94,0.96,0.98,1.02,1.04,1.06,1.08],"labels":false,"tickSize":-4,"title":null}},"x2":{"field":"hi"},"y":{"field":"b0","type":"quantitative","axis":null},"y2":{"field":"b1"}}}
 ],
 "resolve":{"axis":{"x":"independent"}}
},
{
 "width":545,"height":298,
 "layer":[
  {"data":{"name":"face"},"mark":{"type":"circle","size":130,"opacity":0.6},
   "encoding":{
    "x":{"field":"x","type":"quantitative","scale":{"domain":[6.316,8.594],"nice":false,"zero":false},"axis":{"orient":"bottom","values":[6.4,6.7,7.0,7.3,7.6,7.9,8.2,8.5],"labels":false,"tickSize":-8,"title":null}},
    "y":{"field":"y","type":"quantitative","scale":{"domain":[5.923,7.165],"nice":false,"zero":false},"axis":{"orient":"left","values":[6.0,6.3,6.6,6.9],"format":".1f","tickSize":-8,"labelPadding":16,"title":"\u0175\u2082 \u00b7 x","titlePadding":2}},
    "color":{"field":"c","type":"quantitative","scale":{"domain":[0.5,0.65,0.8,0.95,1.1],"range":["#00004c","#0000ff","#ffffff","#ff0000","#7f0000"],"interpolate":"rgb"},"legend":null}}},
  {"data":{"name":"ellA"},"mark":{"type":"line","color":"black","strokeWidth":6,"clip":true,"interpolate":"catmull-rom","strokeCap":"round"},
   "encoding":{
    "x":{"field":"x","type":"quantitative","axis":{"orient":"top","values":[6.4,6.7,7.0,7.3,7.6,7.9,8.2,8.5],"labels":false,"tickSize":-8,"title":null}},
    "y":{"field":"y","type":"quantitative","axis":{"orient":"right","values":[6.0,6.3,6.6,6.9],"labels":false,"tickSize":-8,"title":null}},
    "order":{"field":"o","type":"quantitative"}}},
  {"data":{"name":"ellA"},"mark":{"type":"line","color":"white","strokeWidth":3.2,"clip":true,"interpolate":"catmull-rom","strokeCap":"round"},
   "encoding":{
    "x":{"field":"x","type":"quantitative","axis":{"orient":"bottom","values":[6.325,6.475,6.55,6.625,6.775,6.85,6.925,7.075,7.15,7.225,7.375,7.45,7.525,7.675,7.75,7.825,7.975,8.05,8.125,8.275,8.35,8.425,8.575],"labels":false,"tickSize":-4.5,"title":null}},
    "y":{"field":"y","type":"quantitative","axis":{"orient":"left","values":[5.925,6.075,6.15,6.225,6.375,6.45,6.525,6.675,6.75,6.825,6.975,7.05,7.125],"labels":false,"tickSize":-4.5,"title":null}},
    "order":{"field":"o","type":"quantitative"}}},
  {"data":{"name":"cross"},"mark":{"type":"point","shape":"M-1,-1L1,1M-1,1L1,-1","filled":false,"color":"black","strokeWidth":1.7,"size":121,"opacity":1},
   "encoding":{
    "x":{"field":"w1","type":"quantitative","axis":{"orient":"top","values":[6.325,6.475,6.55,6.625,6.775,6.85,6.925,7.075,7.15,7.225,7.375,7.45,7.525,7.675,7.75,7.825,7.975,8.05,8.125,8.275,8.35,8.425,8.575],"labels":false,"tickSize":-4.5,"title":null}},
    "y":{"field":"w2","type":"quantitative","axis":{"orient":"right","values":[5.925,6.075,6.15,6.225,6.375,6.45,6.525,6.675,6.75,6.825,6.975,7.05,7.125],"labels":false,"tickSize":-4.5,"title":null}}}},
  {"data":{"name":"star"},"mark":{"type":"point","shape":"M0,-1L0.235,-0.324L0.951,-0.309L0.38,0.124L0.588,0.809L0,0.4L-0.588,0.809L-0.38,0.124L-0.951,-0.309L-0.235,-0.324Z","filled":true,"fill":"white","stroke":"black","strokeWidth":1.5,"size":300,"opacity":1},
   "encoding":{"x":{"field":"w1","type":"quantitative","axis":null},"y":{"field":"w2","type":"quantitative","axis":null}}},
  {"data":{"values":[{"x":8.005,"y":6.204,"x2":8.234,"y2":6.304},{"x":8.005,"y":6.204,"x2":7.912,"y2":6.418}]},"mark":{"type":"rule","color":"black","strokeWidth":2},
   "encoding":{"x":{"field":"x","type":"quantitative","axis":null},"y":{"field":"y","type":"quantitative","axis":null},"x2":{"field":"x2"},"y2":{"field":"y2"}}},
  {"data":{"values":[{"x":8.291,"y":6.329}]},"mark":{"type":"point","shape":"M0,0L0.45,1.3L-0.45,1.3Z","filled":true,"color":"black","size":529,"angle":66.3,"opacity":1},
   "encoding":{"x":{"field":"x","type":"quantitative","axis":null},"y":{"field":"y","type":"quantitative","axis":null}}},
  {"data":{"values":[{"x":7.887,"y":6.475}]},"mark":{"type":"point","shape":"M0,0L0.45,1.3L-0.45,1.3Z","filled":true,"color":"black","size":529,"angle":336.5,"opacity":1},
   "encoding":{"x":{"field":"x","type":"quantitative","axis":null},"y":{"field":"y","type":"quantitative","axis":null}}},
  {"data":{"values":[{"x":8.532,"y":7.023,"t":"(a)"}]},"mark":{"type":"text","align":"right","baseline":"middle","font":"Liberation Serif","fontSize":32,"color":"black"},
   "encoding":{"x":{"field":"x","type":"quantitative","axis":null},"y":{"field":"y","type":"quantitative","axis":null},"text":{"field":"t"}}},
  {"data":{"values":[{"x":8.517,"y":5.9875,"t":"face\u2009on"}]},"mark":{"type":"text","align":"right","baseline":"alphabetic","font":"Liberation Serif","fontSize":32,"color":"black"},
   "encoding":{"x":{"field":"x","type":"quantitative","axis":null},"y":{"field":"y","type":"quantitative","axis":null},"text":{"field":"t"}}},
  {"data":{"values":[{"x":8.357,"y":6.236,"t":"v\u0302\u2081"},{"x":7.796,"y":6.408,"t":"v\u0302\u2082"}]},"mark":{"type":"text","align":"center","baseline":"alphabetic","font":"Liberation Serif","fontSize":33,"fontStyle":"italic","fontWeight":"bold","color":"black"},
   "encoding":{"x":{"field":"x","type":"quantitative","axis":null},"y":{"field":"y","type":"quantitative","axis":null},"text":{"field":"t"}}}
 ],
 "resolve":{"axis":{"x":"independent","y":"independent"}}
},
{
 "width":545,"height":156,
 "layer":[
  {"data":{"name":"edge"},"mark":{"type":"circle","size":130,"opacity":0.6},
   "encoding":{
    "x":{"field":"x","type":"quantitative","scale":{"domain":[6.316,8.594],"nice":false,"zero":false},"axis":{"orient":"bottom","values":[6.4,6.7,7.0,7.3,7.6,7.9,8.2,8.5],"format":".1f","tickSize":-8,"labelPadding":17,"title":"\u0175\u2081 \u00b7 x","titlePadding":2}},
    "y":{"field":"z","type":"quantitative","scale":{"domain":[3.398,4.048],"nice":false,"zero":false},"axis":{"orient":"left","values":[3.4,3.7,4.0],"format":".1f","tickSize":-8,"labelPadding":16,"title":"\u0175\u2083 \u00b7 x","titlePadding":2}},
    "color":{"field":"c","type":"quantitative","scale":{"domain":[0.5,0.65,0.8,0.95,1.1],"range":["#00004c","#0000ff","#ffffff","#ff0000","#7f0000"],"interpolate":"rgb"},"legend":null}}},
  {"data":{"name":"ellB"},"mark":{"type":"line","color":"black","strokeWidth":6,"clip":true,"interpolate":"catmull-rom","strokeCap":"round"},
   "encoding":{
    "x":{"field":"x","type":"quantitative","axis":{"orient":"top","values":[6.4,6.7,7.0,7.3,7.6,7.9,8.2,8.5],"labels":false,"tickSize":-8,"title":null}},
    "y":{"field":"z","type":"quantitative","axis":{"orient":"right","values":[3.4,3.7,4.0],"labels":false,"tickSize":-8,"title":null}},
    "order":{"field":"o","type":"quantitative"}}},
  {"data":{"name":"ellB"},"mark":{"type":"line","color":"white","strokeWidth":3.2,"clip":true,"interpolate":"catmull-rom","strokeCap":"round"},
   "encoding":{
    "x":{"field":"x","type":"quantitative","axis":{"orient":"bottom","values":[6.325,6.475,6.55,6.625,6.775,6.85,6.925,7.075,7.15,7.225,7.375,7.45,7.525,7.675,7.75,7.825,7.975,8.05,8.125,8.275,8.35,8.425,8.575],"labels":false,"tickSize":-4.5,"title":null}},
    "y":{"field":"z","type":"quantitative","axis":{"orient":"left","values":[3.475,3.55,3.625,3.775,3.85,3.925],"labels":false,"tickSize":-4.5,"title":null}},
    "order":{"field":"o","type":"quantitative"}}},
  {"data":{"name":"redline"},"mark":{"type":"rule","color":"#ff0000","strokeWidth":2},
   "encoding":{"x":{"field":"x0","type":"quantitative","axis":null},"x2":{"field":"x1"},"y":{"field":"z","type":"quantitative","axis":null}}},
  {"data":{"name":"cross"},"mark":{"type":"point","shape":"M-1,-1L1,1M-1,1L1,-1","filled":false,"color":"black","strokeWidth":1.7,"size":121,"opacity":1},
   "encoding":{
    "x":{"field":"w1","type":"quantitative","axis":{"orient":"top","values":[6.325,6.475,6.55,6.625,6.775,6.85,6.925,7.075,7.15,7.225,7.375,7.45,7.525,7.675,7.75,7.825,7.975,8.05,8.125,8.275,8.35,8.425,8.575],"labels":false,"tickSize":-4.5,"title":null}},
    "y":{"field":"w3","type":"quantitative","axis":{"orient":"right","values":[3.475,3.55,3.625,3.775,3.85,3.925],"labels":false,"tickSize":-4.5,"title":null}}}},
  {"data":{"name":"star"},"mark":{"type":"point","shape":"M0,-1L0.235,-0.324L0.951,-0.309L0.38,0.124L0.588,0.809L0,0.4L-0.588,0.809L-0.38,0.124L-0.951,-0.309L-0.235,-0.324Z","filled":true,"fill":"white","stroke":"black","strokeWidth":1.5,"size":300,"opacity":1},
   "encoding":{"x":{"field":"w1","type":"quantitative","axis":null},"y":{"field":"w3","type":"quantitative","axis":null}}},
  {"data":{"values":[{"x":8.53,"y":3.943,"t":"(b)"}]},"mark":{"type":"text","align":"right","baseline":"middle","font":"Liberation Serif","fontSize":32,"color":"black"},
   "encoding":{"x":{"field":"x","type":"quantitative","axis":null},"y":{"field":"y","type":"quantitative","axis":null},"text":{"field":"t"}}},
  {"data":{"values":[{"x":8.517,"y":3.454,"t":"edge\u2009on"}]},"mark":{"type":"text","align":"right","baseline":"alphabetic","font":"Liberation Serif","fontSize":32,"color":"black"},
   "encoding":{"x":{"field":"x","type":"quantitative","axis":null},"y":{"field":"y","type":"quantitative","axis":null},"text":{"field":"t"}}}
 ],
 "resolve":{"axis":{"x":"independent","y":"independent"}}
}
]
}
